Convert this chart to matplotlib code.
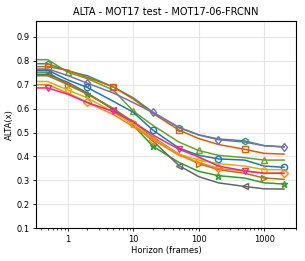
import matplotlib
matplotlib.use("Agg")
import matplotlib.pyplot as plt

# horizon 0 is clipped on the log axis, so the curve runs flat to the left edge
horizons = [0, 0.5, 1, 2, 5, 10, 20, 50, 100, 200, 500, 1000, 2000]

lime = [0.804, 0.804, 0.752, 0.725, 0.677, 0.590, 0.530, 0.460, 0.425, 0.405, 0.395, 0.385, 0.385]
teal = [0.787, 0.787, 0.757, 0.737, 0.690, 0.645, 0.585, 0.520, 0.490, 0.473, 0.465, 0.445, 0.440]
orange_d = [0.775, 0.775, 0.760, 0.730, 0.690, 0.640, 0.580, 0.510, 0.475, 0.450, 0.430, 0.413, 0.410]
purple = [0.765, 0.765, 0.738, 0.706, 0.665, 0.625, 0.584, 0.522, 0.490, 0.470, 0.460, 0.445, 0.440]
blue = [0.760, 0.760, 0.720, 0.688, 0.630, 0.585, 0.510, 0.435, 0.405, 0.390, 0.385, 0.360, 0.355]
green = [0.752, 0.752, 0.700, 0.662, 0.600, 0.530, 0.443, 0.375, 0.338, 0.320, 0.310, 0.290, 0.285]
gray = [0.743, 0.743, 0.710, 0.665, 0.595, 0.535, 0.465, 0.362, 0.316, 0.290, 0.275, 0.265, 0.264]
brown = [0.737, 0.737, 0.700, 0.660, 0.600, 0.545, 0.480, 0.410, 0.370, 0.345, 0.330, 0.310, 0.305]
yellow = [0.713, 0.713, 0.678, 0.645, 0.585, 0.535, 0.475, 0.410, 0.385, 0.370, 0.360, 0.345, 0.345]
orange = [0.700, 0.700, 0.665, 0.626, 0.575, 0.525, 0.470, 0.405, 0.375, 0.350, 0.340, 0.330, 0.330]
pink = [0.686, 0.686, 0.660, 0.625, 0.588, 0.545, 0.490, 0.430, 0.398, 0.360, 0.340, 0.330, 0.330]

series = [
    (lime, "#66a61e", "^", 2),
    (teal, "#1b9e77", "h", 1),
    (orange_d, "#d95f02", "s", 1),
    (purple, "#7570b3", "d", 3),
    (blue, "#1f77b4", "o", 3),
    (green, "#2ca02c", "*", 3),
    (gray, "#666666", "<", 1),
    (brown, "#a6761d", ">", 2),
    (yellow, "#e6ab02", "p", 2),
    (orange, "#ff7f0e", "D", 3),
    (pink, "#e7298a", "v", 1),
]

fig = plt.figure(figsize=(3.05, 2.61), dpi=100)
ax = fig.add_axes([0.118, 0.125, 0.852, 0.796])

for vals, color, marker, start in series:
    ax.plot(horizons, vals, color=color, marker=marker, markevery=(start, 3),
            markersize=4.5, markerfacecolor="none", markeredgewidth=1.0,
            linewidth=1.1)

ax.set_xscale("log")
ax.set_xlim(0.33, 3030)
ax.set_ylim(0.1, 0.967)
ax.set_yticks([0.1, 0.2, 0.3, 0.4, 0.5, 0.6, 0.7, 0.8, 0.9])
ax.set_xticks([1, 10, 100, 1000])
ax.set_xticklabels(["1", "10", "100", "1000"])
ax.grid(True, which="major", color="#e6e6e6", linewidth=0.8)
ax.set_axisbelow(True)
ax.tick_params(labelsize=6, length=2.5, width=0.6, pad=2)
ax.tick_params(which="minor", length=1.5, width=0.5)
for s in ax.spines.values():
    s.set_linewidth(0.8)

ax.set_title("ALTA - MOT17 test - MOT17-06-FRCNN", fontsize=7, pad=4)
ax.set_xlabel("Horizon (frames)", fontsize=6, labelpad=2)
ax.set_ylabel("ALTA(x)", fontsize=6, labelpad=2)

fig.savefig("out.png", dpi=100)
